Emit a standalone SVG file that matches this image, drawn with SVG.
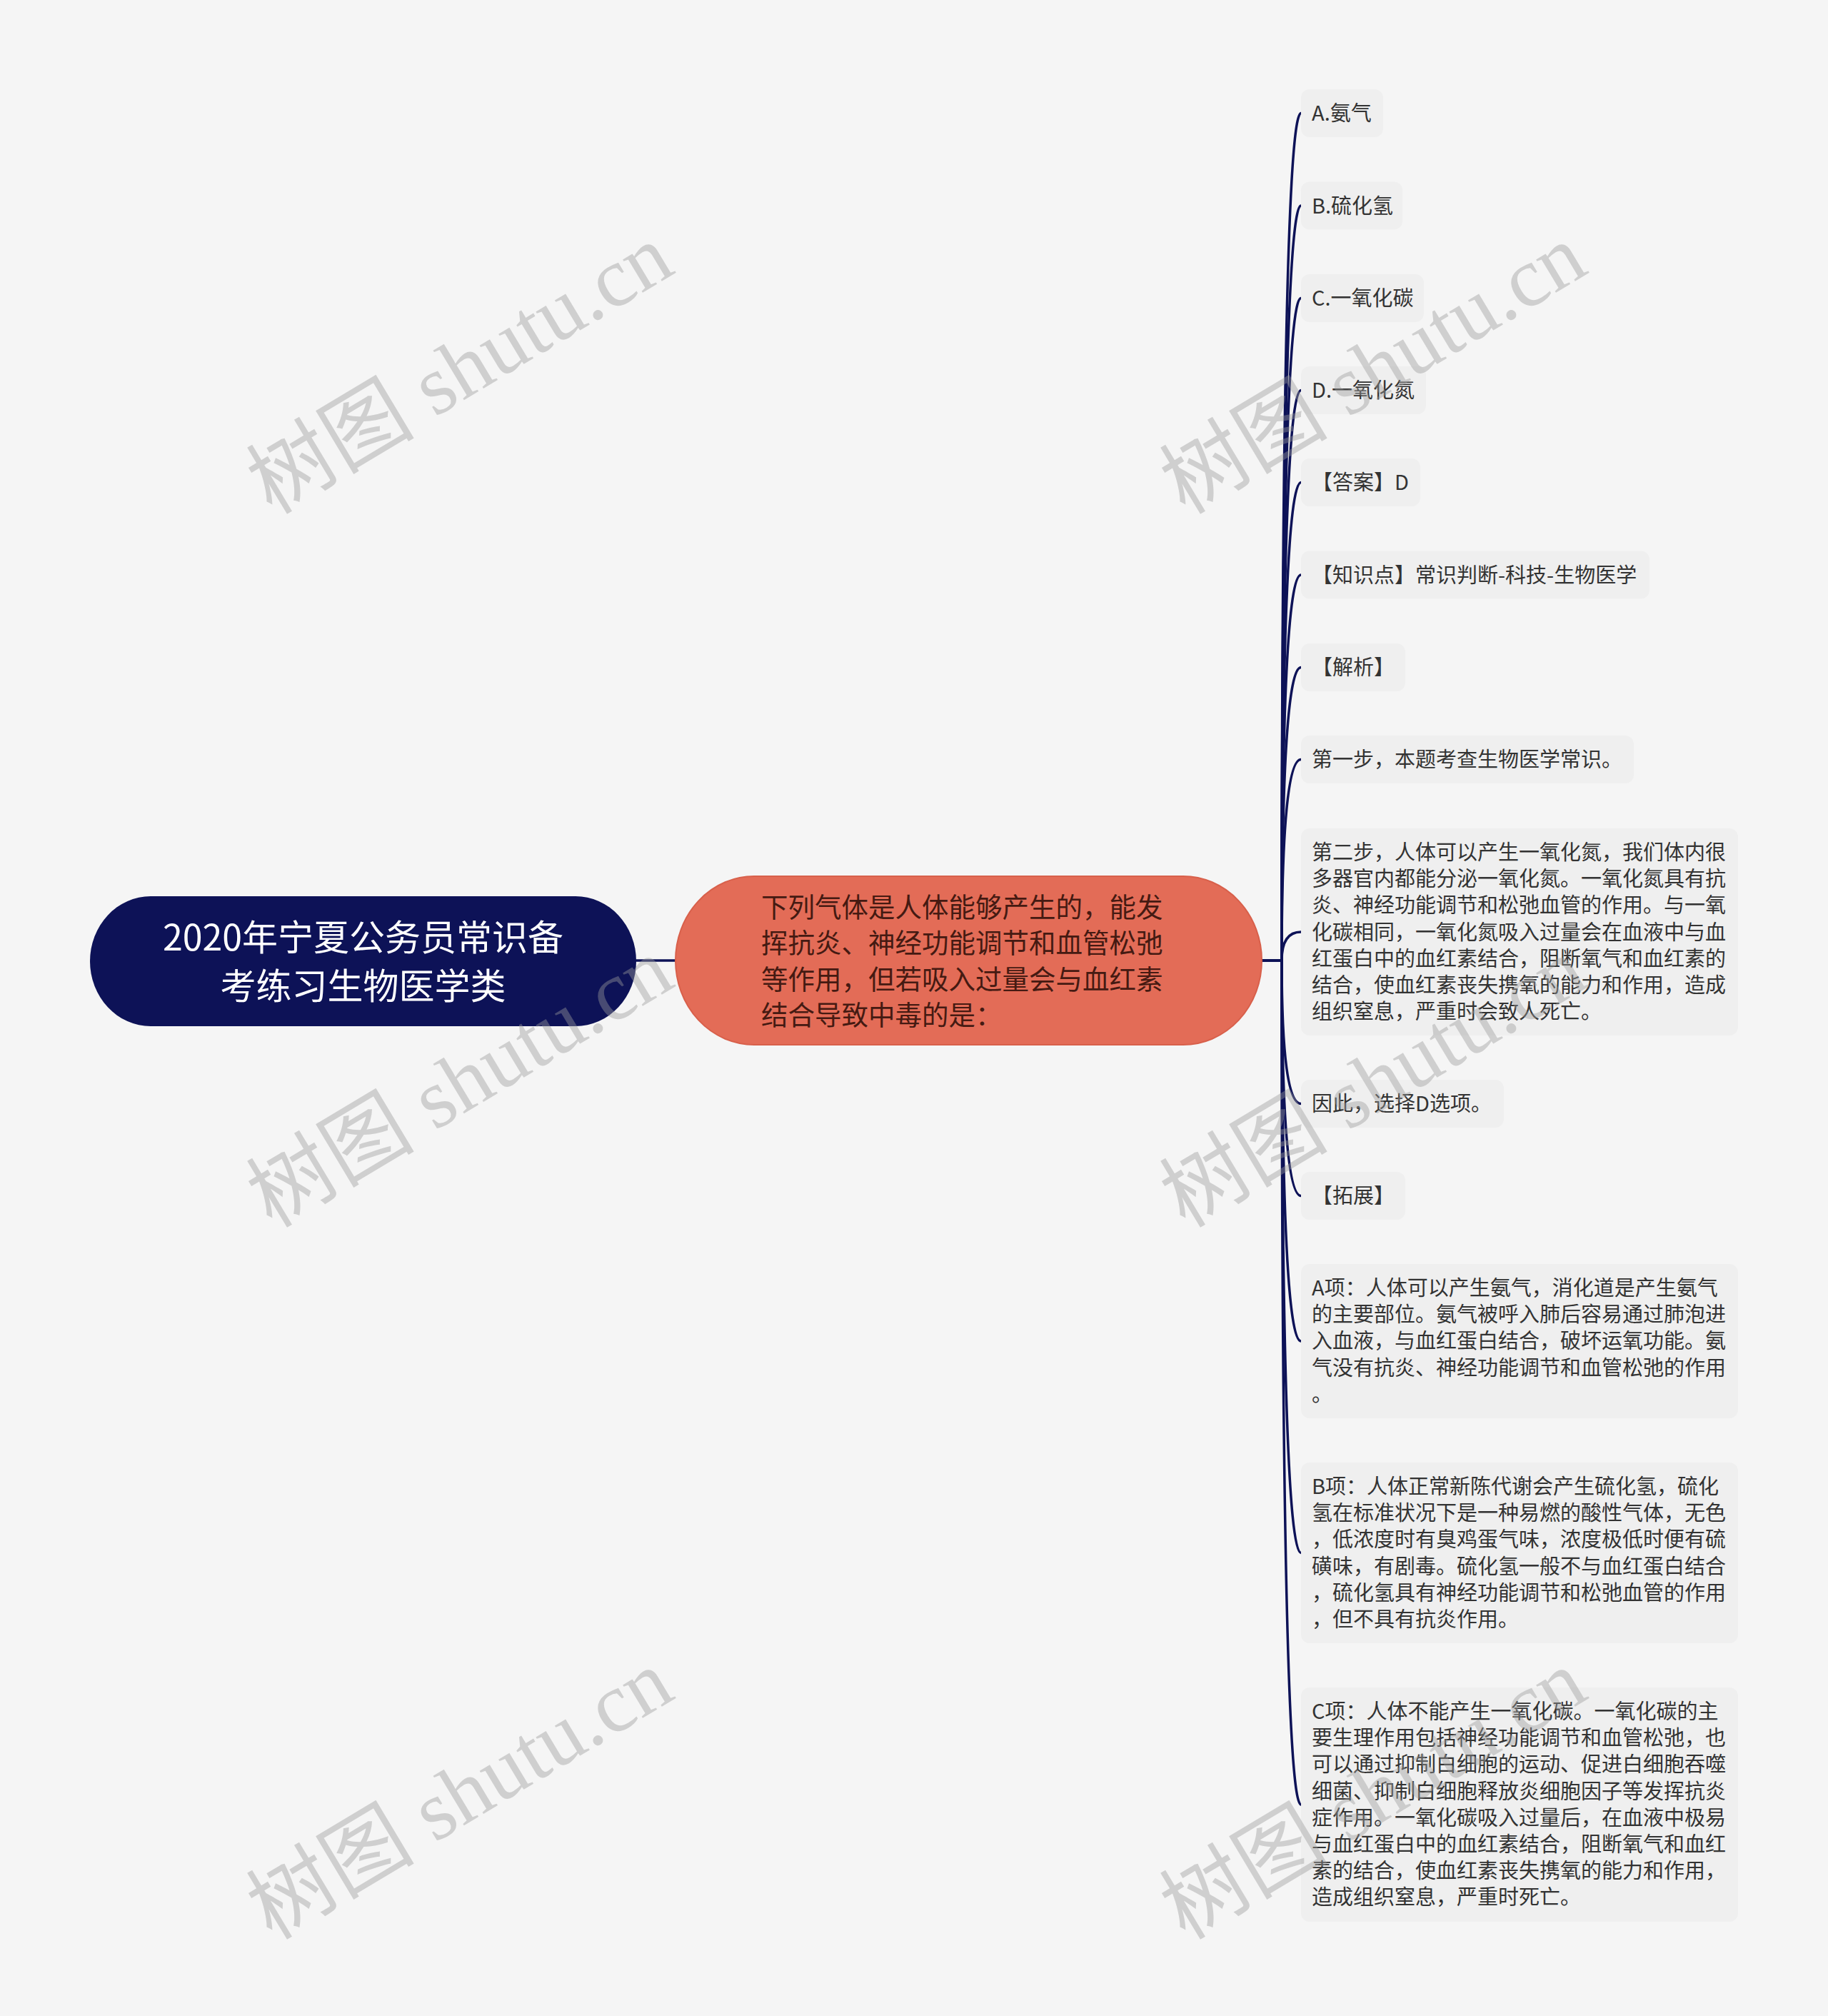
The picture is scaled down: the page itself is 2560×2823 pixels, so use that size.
<svg xmlns="http://www.w3.org/2000/svg" width="2560" height="2823" viewBox="0 0 2560 2823">
<style>
.bg{fill:#f5f5f5}
.box{fill:#efefef}
.t{font-family:"Noto Sans CJK SC","Noto Sans",sans-serif;font-size:29px;fill:#333333}
.root{fill:#0d1257}
.rt{font-family:"Noto Sans CJK SC","Noto Sans",sans-serif;font-size:50px;fill:#ffffff;text-anchor:middle}
.mid{fill:#e36c57;stroke:#d8604b;stroke-width:2}
.mt{font-family:"Noto Sans CJK SC","Noto Sans",sans-serif;font-size:37.5px;fill:#451a12}
.ln{fill:none;stroke:#0d1257;stroke-width:3.5;stroke-linecap:round}
.wm{font-family:"Liberation Serif","Noto Sans CJK SC",serif;font-size:118px;fill:#9a9a9a;fill-opacity:0.42;text-anchor:middle}
</style>
<rect class="bg" x="0" y="0" width="2560" height="2823"/>
<g id="connectors">
<path class="ln" d="M891,1345 H946"/>
<path class="ln" d="M1767,1345 H1795 Q1795,158.5 1822,158.5"/>
<path class="ln" d="M1767,1345 H1795 Q1795,288 1822,288"/>
<path class="ln" d="M1767,1345 H1795 Q1795,417.5 1822,417.5"/>
<path class="ln" d="M1767,1345 H1795 Q1795,546.5 1822,546.5"/>
<path class="ln" d="M1767,1345 H1795 Q1795,675.5 1822,675.5"/>
<path class="ln" d="M1767,1345 H1795 Q1795,805 1822,805"/>
<path class="ln" d="M1767,1345 H1795 Q1795,934.5 1822,934.5"/>
<path class="ln" d="M1767,1345 H1795 Q1795,1063.5 1822,1063.5"/>
<path class="ln" d="M1767,1345 H1795 Q1795,1305 1822,1305"/>
<path class="ln" d="M1767,1345 H1795 Q1795,1545.5 1822,1545.5"/>
<path class="ln" d="M1767,1345 H1795 Q1795,1674.5 1822,1674.5"/>
<path class="ln" d="M1767,1345 H1795 Q1795,1878 1822,1878"/>
<path class="ln" d="M1767,1345 H1795 Q1795,2174.5 1822,2174.5"/>
<path class="ln" d="M1767,1345 H1795 Q1795,2527 1822,2527"/>
</g>
<g id="root">
<rect class="root" x="126" y="1255" width="765" height="182" rx="85" ry="91"/>
<text class="rt" x="508.5" y="1331">2020年宁夏公务员常识备</text>
<text class="rt" x="508.5" y="1399">考练习生物医学类</text>
</g>
<g id="question">
<rect class="mid" x="946" y="1227" width="821" height="236" rx="110" ry="118"/>
<text class="mt" x="1066" y="1284">下列气体是人体能够产生的，能发</text>
<text class="mt" x="1066" y="1334">挥抗炎、神经功能调节和血管松弛</text>
<text class="mt" x="1066" y="1385">等作用，但若吸入过量会与血红素</text>
<text class="mt" x="1066" y="1435">结合导致中毒的是：</text>
</g>
<g id="optA">
<rect class="box" x="1822" y="125" width="115" height="67" rx="12"/>
<text class="t" x="1837" y="169">A.氨气</text>
</g>
<g id="optB">
<rect class="box" x="1822" y="254.5" width="142" height="67" rx="12"/>
<text class="t" x="1837" y="298.5">B.硫化氢</text>
</g>
<g id="optC">
<rect class="box" x="1822" y="384" width="172" height="67" rx="12"/>
<text class="t" x="1837" y="428">C.一氧化碳</text>
</g>
<g id="optD">
<rect class="box" x="1822" y="513" width="175" height="67" rx="12"/>
<text class="t" x="1837" y="557">D.一氧化氮</text>
</g>
<g id="answer">
<rect class="box" x="1822" y="642" width="167" height="67" rx="12"/>
<text class="t" x="1837" y="686">【答案】D</text>
</g>
<g id="knowledge">
<rect class="box" x="1822" y="771.5" width="488" height="67" rx="12"/>
<text class="t" x="1837" y="815.5">【知识点】常识判断-科技-生物医学</text>
</g>
<g id="analysis">
<rect class="box" x="1822" y="901" width="146" height="67" rx="12"/>
<text class="t" x="1837" y="945">【解析】</text>
</g>
<g id="step1">
<rect class="box" x="1822" y="1030" width="466" height="67" rx="12"/>
<text class="t" x="1837" y="1074">第一步，本题考查生物医学常识。</text>
</g>
<g id="step2">
<rect class="box" x="1822" y="1160" width="612" height="290" rx="12"/>
<text class="t" x="1837" y="1204">第二步，人体可以产生一氧化氮，我们体内很</text>
<text class="t" x="1837" y="1241.2">多器官内都能分泌一氧化氮。一氧化氮具有抗</text>
<text class="t" x="1837" y="1278.4">炎、神经功能调节和松弛血管的作用。与一氧</text>
<text class="t" x="1837" y="1315.6">化碳相同，一氧化氮吸入过量会在血液中与血</text>
<text class="t" x="1837" y="1352.8">红蛋白中的血红素结合，阻断氧气和血红素的</text>
<text class="t" x="1837" y="1390">结合，使血红素丧失携氧的能力和作用，造成</text>
<text class="t" x="1837" y="1427.2">组织窒息，严重时会致人死亡。</text>
</g>
<g id="conclusion">
<rect class="box" x="1822" y="1512" width="284" height="67" rx="12"/>
<text class="t" x="1837" y="1556">因此，选择D选项。</text>
</g>
<g id="extend">
<rect class="box" x="1822" y="1641" width="146" height="67" rx="12"/>
<text class="t" x="1837" y="1685">【拓展】</text>
</g>
<g id="itemA">
<rect class="box" x="1822" y="1770" width="612" height="216" rx="12"/>
<text class="t" x="1837" y="1814">A项：人体可以产生氨气，消化道是产生氨气</text>
<text class="t" x="1837" y="1851.2">的主要部位。氨气被呼入肺后容易通过肺泡进</text>
<text class="t" x="1837" y="1888.4">入血液，与血红蛋白结合，破坏运氧功能。氨</text>
<text class="t" x="1837" y="1925.6">气没有抗炎、神经功能调节和血管松弛的作用</text>
<text class="t" x="1837" y="1962.8">。</text>
</g>
<g id="itemB">
<rect class="box" x="1822" y="2048" width="612" height="253" rx="12"/>
<text class="t" x="1837" y="2092">B项：人体正常新陈代谢会产生硫化氢，硫化</text>
<text class="t" x="1837" y="2129.2">氢在标准状况下是一种易燃的酸性气体，无色</text>
<text class="t" x="1837" y="2166.4">，低浓度时有臭鸡蛋气味，浓度极低时便有硫</text>
<text class="t" x="1837" y="2203.6">磺味，有剧毒。硫化氢一般不与血红蛋白结合</text>
<text class="t" x="1837" y="2240.8">，硫化氢具有神经功能调节和松弛血管的作用</text>
<text class="t" x="1837" y="2278">，但不具有抗炎作用。</text>
</g>
<g id="itemC">
<rect class="box" x="1822" y="2363" width="612" height="328" rx="12"/>
<text class="t" x="1837" y="2407">C项：人体不能产生一氧化碳。一氧化碳的主</text>
<text class="t" x="1837" y="2444.2">要生理作用包括神经功能调节和血管松弛，也</text>
<text class="t" x="1837" y="2481.4">可以通过抑制白细胞的运动、促进白细胞吞噬</text>
<text class="t" x="1837" y="2518.6">细菌、抑制白细胞释放炎细胞因子等发挥抗炎</text>
<text class="t" x="1837" y="2555.8">症作用。一氧化碳吸入过量后，在血液中极易</text>
<text class="t" x="1837" y="2593">与血红蛋白中的血红素结合，阻断氧气和血红</text>
<text class="t" x="1837" y="2630.2">素的结合，使血红素丧失携氧的能力和作用，</text>
<text class="t" x="1837" y="2667.4">造成组织窒息，严重时死亡。</text>
</g>
<g id="watermarks">
<text class="wm" transform="translate(644,517) rotate(-31)" y="40">树图 shutu.cn</text>
<text class="wm" transform="translate(1923,517) rotate(-31)" y="40">树图 shutu.cn</text>
<text class="wm" transform="translate(644,1516) rotate(-31)" y="40">树图 shutu.cn</text>
<text class="wm" transform="translate(1923,1516) rotate(-31)" y="40">树图 shutu.cn</text>
<text class="wm" transform="translate(644,2513) rotate(-31)" y="40">树图 shutu.cn</text>
<text class="wm" transform="translate(1923,2513) rotate(-31)" y="40">树图 shutu.cn</text>
</g>
</svg>
